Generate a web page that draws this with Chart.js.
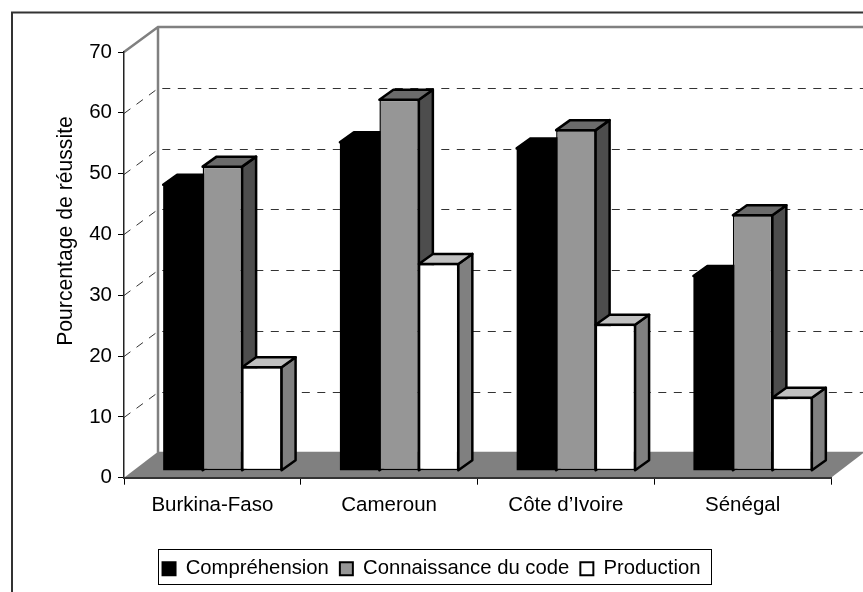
<!DOCTYPE html>
<html>
<head>
<meta charset="utf-8">
<title>Pourcentage de réussite</title>
<script src="https://cdn.jsdelivr.net/npm/chart.js@4"></script>
<style>
  html, body { margin: 0; padding: 0; background: #fff; overflow: hidden; }
  #wrap { width: 863px; height: 592px; }
</style>
</head>
<body>
<div id="wrap"><canvas id="chart-reussite"></canvas></div>
<script>
var pays = ["Burkina-Faso", "Cameroun", "Côte d’Ivoire", "Sénégal"];
var comprehension = [47, 54, 53, 32];
var connaissance = [50, 61, 56, 42];
var production = [17, 34, 24, 12];
var yTicks = [0, 10, 20, 30, 40, 50, 60, 70];
var yTitle = "Pourcentage de réussite";

var fontFamily = '"Liberation Sans", Arial, sans-serif';
var sideColors = ["#000000", "#4d4d4d", "#808080"];
var topColors = ["#000000", "#6b6b6b", "#c0c0c0"];

// fake 3D: wall/floor depth and how far the bars sit inside it
var wallDx = 34, wallDy = 25;
var barDx = 10, barDy = 7;
var depthDx = 14, depthDy = 10;

function poly(ctx, pts, fill) {
  ctx.beginPath();
  ctx.moveTo(pts[0][0], pts[0][1]);
  for (var i = 1; i < pts.length; i++) ctx.lineTo(pts[i][0], pts[i][1]);
  ctx.closePath();
  if (fill) {
    ctx.fillStyle = fill;
    ctx.fill();
  }
}

var box3d = {
  id: "box3d",
  beforeDraw: function (chart) {
    var ctx = chart.ctx, a = chart.chartArea, y = chart.scales.y;
    ctx.save();
    ctx.fillStyle = "#fff";
    ctx.fillRect(0, 0, chart.width, chart.height);

    // outer frame, runs off the picture on the right and bottom
    ctx.strokeStyle = "#333";
    ctx.lineWidth = 2;
    ctx.strokeRect(12, 12.5, 1000, 1000);

    // floor
    poly(ctx, [[a.left, a.bottom], [a.left + wallDx, a.bottom - wallDy - 1], [a.right + wallDx, a.bottom - wallDy - 1], [a.right, a.bottom]], "#808080");

    // dashed grid on the side and back wall
    ctx.lineWidth = 1;
    ctx.strokeStyle = "#333";
    ctx.setLineDash([8, 7.5]);
    yTicks.slice(1, -1).forEach(function (v) {
      var py = Math.round(y.getPixelForValue(v)) + 0.5;
      ctx.beginPath();
      ctx.moveTo(a.left, py);
      ctx.lineTo(a.left + wallDx, py - wallDy);
      ctx.lineTo(a.right + wallDx, py - wallDy);
      ctx.stroke();
    });
    ctx.setLineDash([]);

    // wall edges
    ctx.strokeStyle = "#808080";
    ctx.lineWidth = 2.5;
    ctx.beginPath();
    ctx.moveTo(a.left, a.top);
    ctx.lineTo(a.left + wallDx, a.top - wallDy);
    ctx.lineTo(a.right + wallDx, a.top - wallDy);
    ctx.moveTo(a.left + wallDx, a.top - wallDy);
    ctx.lineTo(a.left + wallDx, a.bottom - wallDy);
    ctx.stroke();

    // legend frame
    ctx.strokeStyle = "#000";
    ctx.lineWidth = 1;
    ctx.strokeRect(158.5, 549.5, 553, 35);

    // axis title
    ctx.translate(66, 231);
    ctx.rotate(-Math.PI / 2);
    ctx.fillStyle = "#000";
    ctx.font = "21.2px " + fontFamily;
    ctx.textAlign = "center";
    ctx.textBaseline = "middle";
    ctx.fillText(yTitle, 0, 0);
    ctx.restore();
  },
  // bars have to go left to right so the next front face hides the side face
  beforeDatasetsDraw: function (chart) {
    var ctx = chart.ctx;
    ctx.save();
    ctx.translate(barDx, -barDy);
    chart.data.datasets.forEach(function (ds, d) {
      chart.getDatasetMeta(d).data.forEach(function (bar) {
        var l = bar.x - bar.width / 2, r = bar.x + bar.width / 2;
        ctx.strokeStyle = "#000";
        ctx.lineWidth = 2.5;
        ctx.lineJoin = "round";
        poly(ctx, [[r, bar.y], [r + depthDx, bar.y - depthDy], [r + depthDx, bar.base - depthDy], [r, bar.base]], sideColors[d]);
        ctx.stroke();
        poly(ctx, [[l, bar.y], [l + depthDx, bar.y - depthDy], [r + depthDx, bar.y - depthDy], [r, bar.y]], topColors[d]);
        ctx.stroke();
        bar.draw(ctx);
      });
    });
    ctx.restore();
    return false;
  },
};

var ctx = document.getElementById("chart-reussite").getContext("2d");

new Chart(ctx, {
  type: "bar",
  data: {
    labels: pays,
    datasets: [
      {
        label: "Compréhension",
        data: comprehension,
        backgroundColor: "#000000",
        borderColor: "#000000",
        borderWidth: 0,
        borderSkipped: false,
      },
      {
        label: "Connaissance du code",
        data: connaissance,
        backgroundColor: "#969696",
        borderColor: "#000000",
        borderWidth: 1.5,
        borderSkipped: false,
      },
      {
        label: "Production",
        data: production,
        backgroundColor: "#ffffff",
        borderColor: "#000000",
        borderWidth: 1.5,
        borderSkipped: false,
      },
    ],
  },
  options: {
    responsive: true,
    maintainAspectRatio: false,
    animation: false,
    datasets: {
      bar: {
        categoryPercentage: 0.67,
        barPercentage: 1,
      },
    },
    layout: {
      padding: { left: 32, right: 32, top: 52, bottom: 3 },
    },
    plugins: {
      legend: {
        position: "bottom",
        labels: {
          boxWidth: 13,
          boxHeight: 13,
          padding: 11,
          color: "#000",
          font: { size: 20.3, family: fontFamily },
          generateLabels: function (chart) {
            var items = Chart.defaults.plugins.legend.labels.generateLabels(chart);
            items.forEach(function (item) {
              item.lineWidth = 2;
              item.strokeStyle = "#000";
            });
            return items;
          },
        },
      },
      tooltip: { enabled: false },
    },
    scales: {
      y: {
        min: 0,
        max: 70,
        afterFit: function (scale) {
          scale.width = 92;
        },
        afterBuildTicks: function (scale) {
          scale.ticks = yTicks.map(function (v) {
            return { value: v };
          });
        },
        border: { color: "#222", width: 1.5 },
        grid: {
          drawOnChartArea: false,
          tickLength: 6,
          tickColor: "#000",
        },
        ticks: {
          padding: 6,
          color: "#000",
          font: { size: 20.5, family: fontFamily },
        },
      },
      x: {
        afterFit: function (scale) {
          scale.height = 70;
        },
        border: { color: "#333", width: 2 },
        grid: {
          drawOnChartArea: false,
          tickLength: 7,
          tickColor: "#000",
        },
        ticks: {
          padding: 8,
          maxRotation: 0,
          color: "#000",
          font: { size: 20.5, family: fontFamily },
        },
      },
    },
  },
  plugins: [box3d],
});
</script>
</body>
</html>
